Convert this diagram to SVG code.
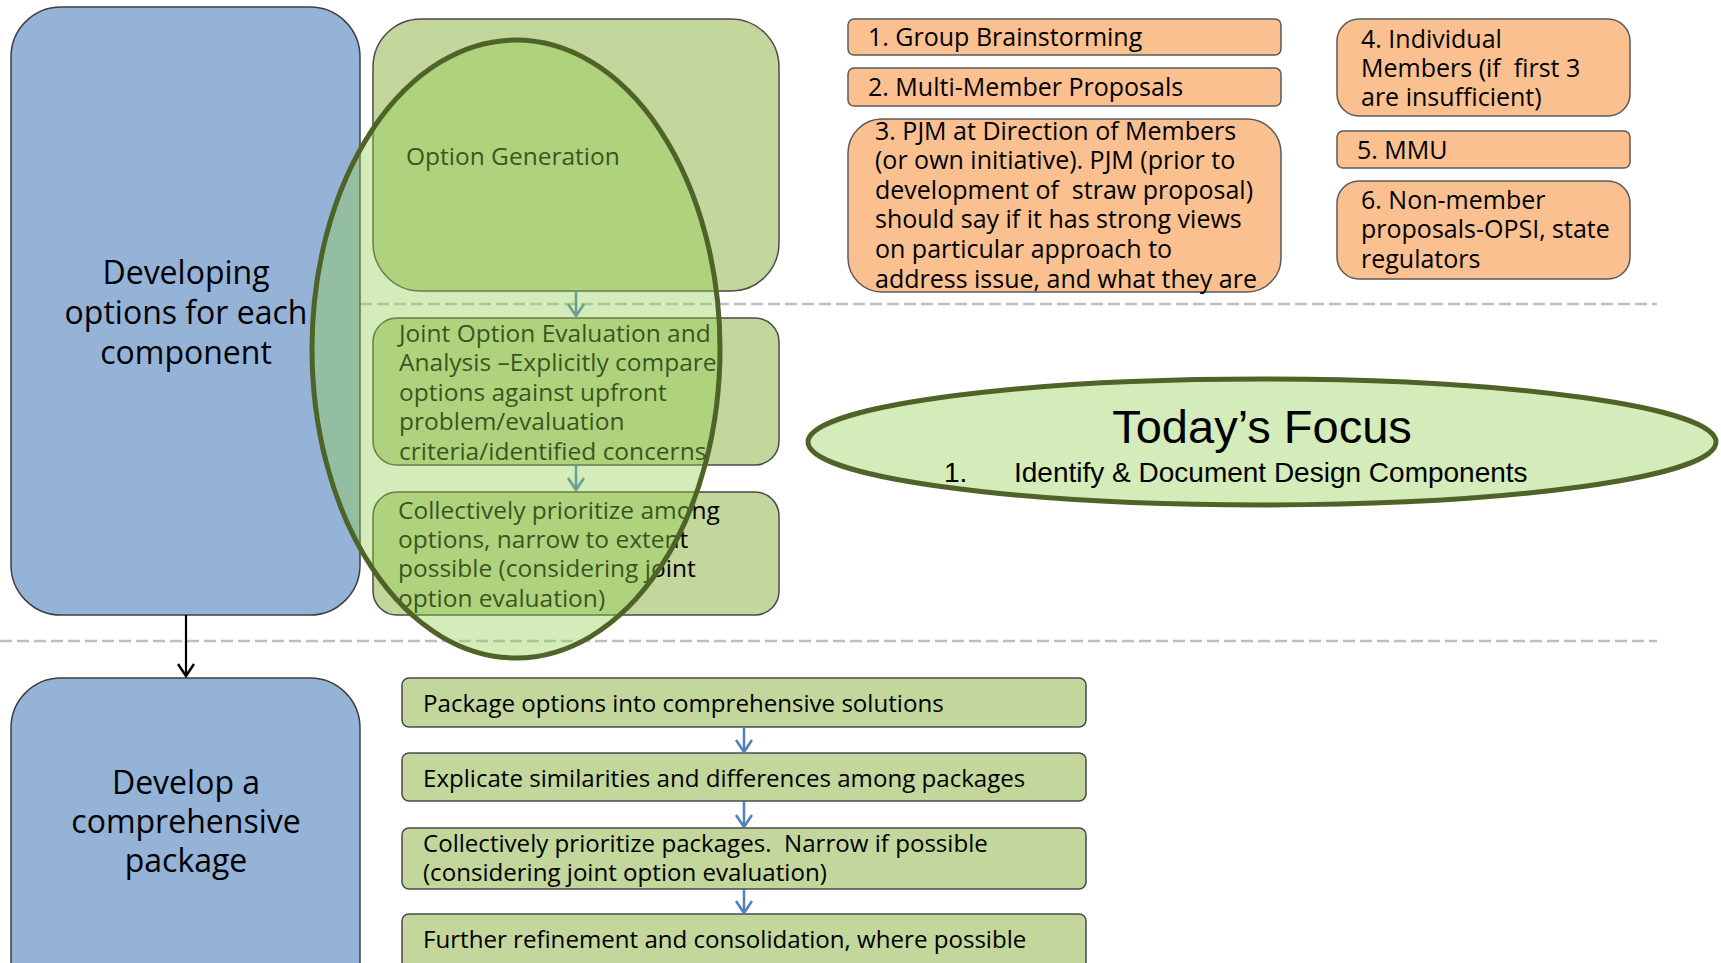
<svg xmlns="http://www.w3.org/2000/svg" width="1721" height="963" viewBox="0 0 1721 963">
<defs>
<style>
.blue{fill:#95B3D7;stroke:#3F3F3F;stroke-width:1.5}
.grn{fill:#C3D69B;stroke:#4A4A4A;stroke-width:1.5}
.org{fill:#FAC090;stroke:#5A5A5A;stroke-width:1.5}
.t{font-family:"Open Sans","Liberation Sans",sans-serif;font-size:24.5px;fill:#000;white-space:pre}
.o{font-size:25px}
.l{font-size:24.1px}
.big{font-family:"Open Sans","Liberation Sans",sans-serif;font-size:32px;fill:#000;text-anchor:middle}
.dash{stroke:#BFBFBF;stroke-width:2.5;stroke-dasharray:12 5;fill:none}
.cb{stroke:#4F81BD;stroke-width:2.5;fill:none}
.ck{stroke:#000;stroke-width:2.2;fill:none}
.arial{font-family:"Liberation Sans",Arial,sans-serif;fill:#000}
</style>
<marker id="hb" markerUnits="userSpaceOnUse" markerWidth="18" markerHeight="20" refX="13" refY="9" orient="auto">
<path d="M1,1 L13,9 L1,17" fill="none" stroke="#4F81BD" stroke-width="2.6"/>
</marker>
<marker id="hk" markerUnits="userSpaceOnUse" markerWidth="18" markerHeight="20" refX="13" refY="9" orient="auto">
<path d="M1,1 L13,9 L1,17" fill="none" stroke="#000" stroke-width="2.4"/>
</marker>
</defs>
<rect width="1721" height="963" fill="#FFFFFF"/>

<g id="dashes">
<line class="dash" x1="360" y1="304" x2="1657" y2="304"/>
<line class="dash" x1="0" y1="641" x2="1657" y2="641"/>
</g>

<g id="node-developing">
<rect class="blue" x="11" y="7" width="349" height="608" rx="50"/>
<text class="big" x="186" y="284">Developing</text>
<text class="big" x="186" y="324">options for each</text>
<text class="big" x="186" y="364">component</text>
</g>

<g id="node-package">
<rect class="blue" x="11" y="678" width="349" height="340" rx="50"/>
<text class="big" x="186" y="794">Develop a</text>
<text class="big" x="186" y="833">comprehensive</text>
<text class="big" x="186" y="872">package</text>
</g>

<g id="node-option-generation">
<rect class="grn" x="373" y="19" width="406" height="272" rx="48"/>
<text class="t" x="406" y="165">Option Generation</text>
</g>

<g id="node-joint-evaluation">
<rect class="grn" x="373" y="318" width="406" height="147" rx="24"/>
<text class="t" x="399" y="342">Joint Option Evaluation and</text>
<text class="t" x="399" y="371">Analysis –Explicitly compare</text>
<text class="t" x="399" y="401">options against upfront</text>
<text class="t" x="399" y="430">problem/evaluation</text>
<text class="t" x="399" y="460">criteria/identified concerns</text>
</g>

<g id="node-prioritize-options">
<rect class="grn" x="373" y="492" width="406" height="123" rx="24"/>
<text class="t" x="398" y="519">Collectively prioritize among</text>
<text class="t" x="398" y="548">options, narrow to extent</text>
<text class="t" x="398" y="577">possible (considering joint</text>
<text class="t" x="398" y="607">option evaluation)</text>
</g>

<g id="node-package-options">
<rect class="grn" x="402" y="678" width="684" height="49" rx="7"/>
<text class="t l" x="423" y="712">Package options into comprehensive solutions</text>
</g>

<g id="node-explicate">
<rect class="grn" x="402" y="753" width="684" height="48" rx="7"/>
<text class="t l" x="423" y="787">Explicate similarities and differences among packages</text>
</g>

<g id="node-prioritize-packages">
<rect class="grn" x="402" y="828" width="684" height="61" rx="7"/>
<text class="t l" x="423" y="852">Collectively prioritize packages.  Narrow if possible</text>
<text class="t l" x="423" y="881">(considering joint option evaluation)</text>
</g>

<g id="node-refinement">
<rect class="grn" x="402" y="914" width="684" height="70" rx="7"/>
<text class="t l" x="423" y="948">Further refinement and consolidation, where possible</text>
</g>

<g id="node-src1">
<rect class="org" x="848" y="19" width="433" height="36" rx="6"/>
<text class="t o" x="868" y="46">1. Group Brainstorming</text>
</g>
<g id="node-src2">
<rect class="org" x="848" y="68" width="433" height="38" rx="6"/>
<text class="t o" x="868" y="96">2. Multi-Member Proposals</text>
</g>
<g id="node-src3">
<rect class="org" x="848" y="119" width="433" height="173" rx="34"/>
<text class="t o" x="875" y="140">3. PJM at Direction of Members</text>
<text class="t o" x="875" y="169">(or own initiative). PJM (prior to</text>
<text class="t o" x="875" y="199">development of  straw proposal)</text>
<text class="t o" x="875" y="228">should say if it has strong views</text>
<text class="t o" x="875" y="258">on particular approach to</text>
<text class="t o" x="875" y="288">address issue, and what they are</text>
</g>
<g id="node-src4">
<rect class="org" x="1337" y="19" width="293" height="97" rx="22"/>
<text class="t o" x="1361" y="48">4. Individual</text>
<text class="t o" x="1361" y="77">Members (if  first 3</text>
<text class="t o" x="1361" y="106">are insufficient)</text>
</g>
<g id="node-src5">
<rect class="org" x="1337" y="131" width="293" height="37" rx="6"/>
<text class="t o" x="1357" y="159">5. MMU</text>
</g>
<g id="node-src6">
<rect class="org" x="1337" y="181" width="293" height="98" rx="22"/>
<text class="t o" x="1361" y="209">6. Non-member</text>
<text class="t o" x="1361" y="238">proposals-OPSI, state</text>
<text class="t o" x="1361" y="268">regulators</text>
</g>

<g id="connectors">
<path class="ck" d="M186,615 L186,676" marker-end="url(#hk)"/>
<path class="cb" d="M576,291 L576,316" marker-end="url(#hb)"/>
<path class="cb" d="M576,465 L576,490" marker-end="url(#hb)"/>
<path class="cb" d="M744,727 L744,752" marker-end="url(#hb)"/>
<path class="cb" d="M744,801 L744,827" marker-end="url(#hb)"/>
<path class="cb" d="M744,889 L744,913" marker-end="url(#hb)"/>
</g>

<g id="node-focus-highlight">
<ellipse cx="516" cy="349" rx="204" ry="309" fill="#92D050" fill-opacity="0.4" stroke="#4F6228" stroke-width="5"/>
</g>

<g id="node-todays-focus">
<ellipse cx="1262" cy="442" rx="454" ry="63" fill="#D3ECB9" stroke="#4F6228" stroke-width="5"/>
<text class="arial" x="1262" y="443" font-size="47" text-anchor="middle">Today’s Focus</text>
<text class="arial" x="944" y="482" font-size="28">1.</text>
<text class="arial" x="1014" y="482" font-size="28">Identify &amp; Document Design Components</text>
</g>
</svg>
